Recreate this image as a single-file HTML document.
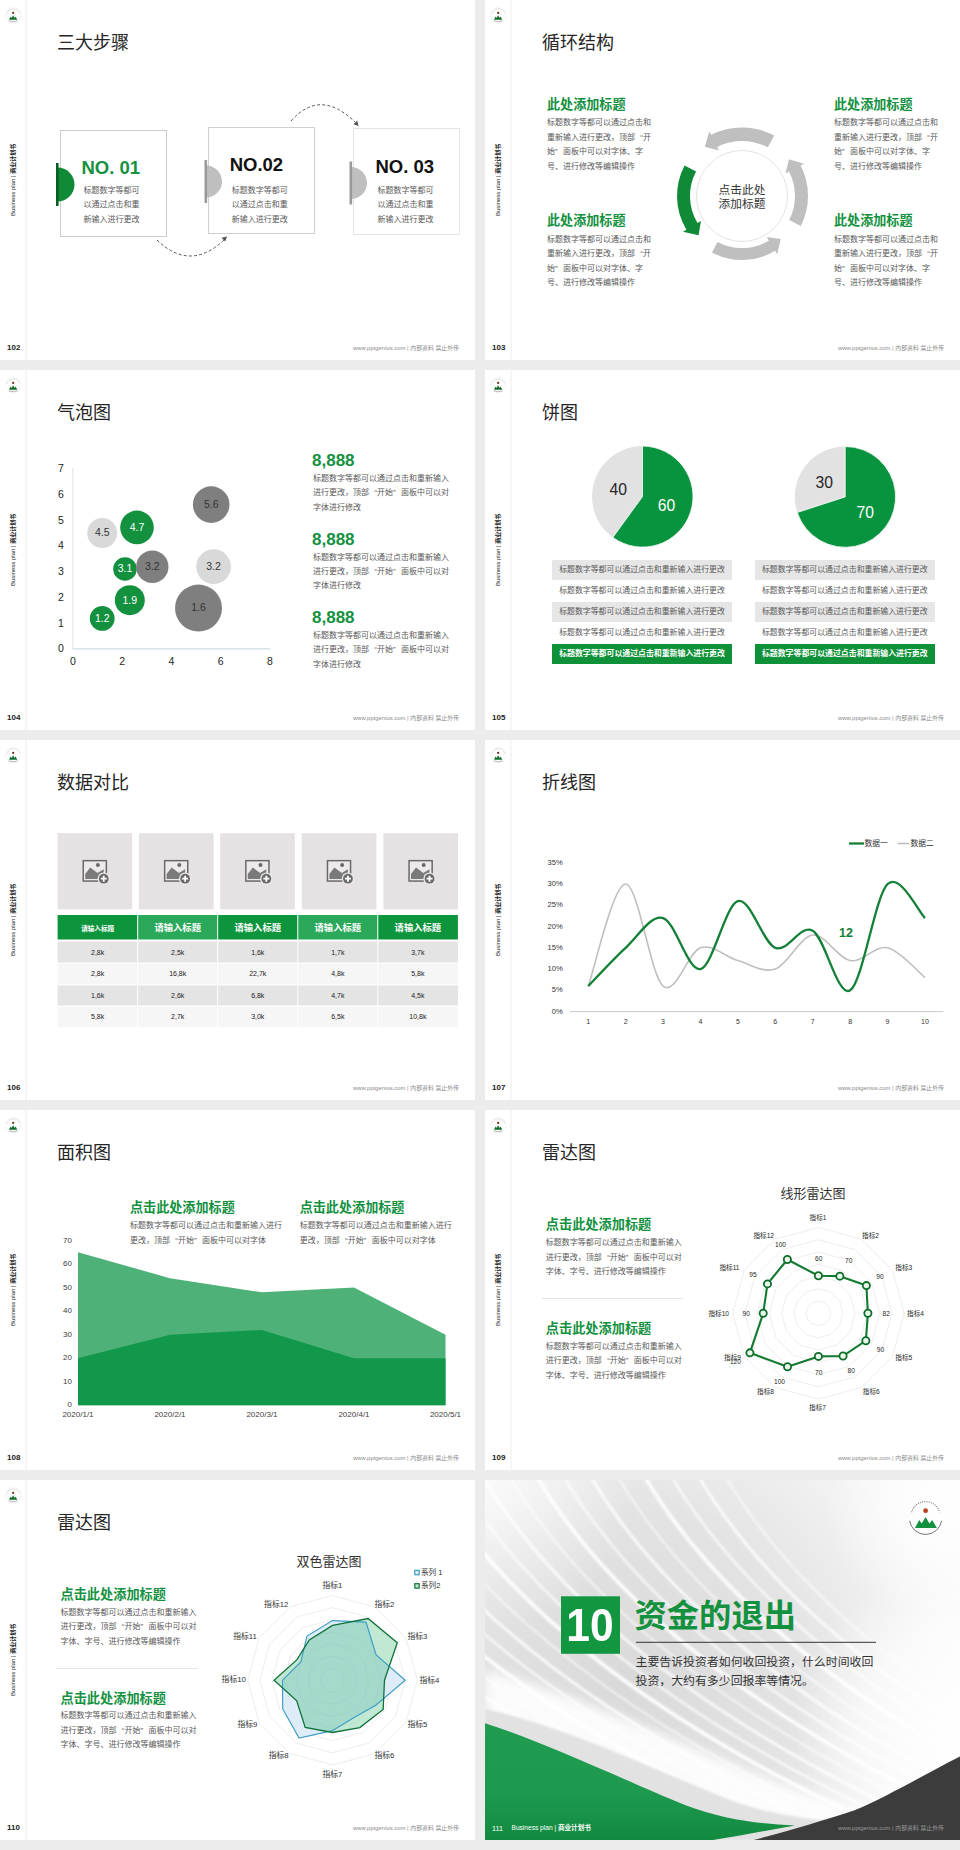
<!DOCTYPE html><html><head><meta charset="utf-8"><title>Business plan</title><style>
*{margin:0;padding:0;box-sizing:content-box}
html,body{width:960px;height:1850px;background:#ececec;overflow:hidden}
body{position:relative;font-family:"Liberation Sans", "Noto Sans CJK SC", sans-serif}
.s{position:absolute;width:475px;height:360px;background:#fff;overflow:hidden}
.a{position:absolute}
.t{position:absolute;white-space:nowrap;line-height:1}
.vt{transform:rotate(-90deg);text-align:center}
.ql{display:inline-block;width:1em;text-align:right}
.qr{display:inline-block;width:1em;text-align:left}
svg text{font-family:"Liberation Sans", "Noto Sans CJK SC", sans-serif}
</style></head><body>
<div class="s" style="left:0px;top:0px"><svg class="a" style="left:4px;top:6px" width="19" height="19" viewBox="0 0 19 19">
<circle cx="9.2" cy="9.2" r="7.6" fill="none" stroke="#ececec" stroke-width="0.6"/><path d="M3.2 7.5 A6.6 6.6 0 0 1 15.8 7.5" fill="none" stroke="#bdbdbd" stroke-width="0.8" stroke-dasharray="0.8 0.7"/>
<circle cx="9.2" cy="6.9" r="1.1" fill="#6b2a1a"/>
<path d="M5 13.8 L6.6 10.6 L7.6 12 L9.1 9.2 L10.6 12 L11.6 10.6 L13.3 13.8 Z" fill="#106d2c"/>
<path d="M4.8 14.9 Q9.2 16.6 13.6 14.9" fill="none" stroke="#9a9a9a" stroke-width="0.7"/>
</svg><div class="a" style="left:25px;top:0;width:2px;height:360px;background:#f6f6f6"></div><div class="t vt" style="left:-23px;top:177px;width:72px;font-size:6px;color:#222">Business plan | <b>商业计划书</b></div><div class="t" style="left:7px;top:344px;font-size:8px;color:#222;font-weight:bold;">102</div><div class="t" style="left:159px;width:300px;text-align:right;top:346px;font-size:5.9px;color:#8a8a8a;font-weight:normal;">www.pptgenius.com | 内部资料 禁止外传</div><div class="t" style="left:57px;top:34px;font-size:18px;color:#262626;font-weight:normal;">三大步骤</div><div class="a" style="left:60px;top:130px;width:105px;height:105px;border:1px solid #cccccc;background:#fff"></div><div class="a" style="left:208px;top:127px;width:105px;height:105px;border:1px solid #cfcfcf;background:#fff"></div><div class="a" style="left:353px;top:128px;width:105px;height:105px;border:1px solid #e4e4e4;background:#fff"></div><svg class="a" style="left:0;top:0" width="475" height="360"><path d="M57.5 167.5 A17 17 0 0 1 57.5 201.5 Z" fill="#118a38"/><rect x="56.0" y="163.0" width="2.6" height="43" fill="#0a5e24"/><path d="M206 165.5 A16 16 0 0 1 206 197.5 Z" fill="#bfbfbf"/><rect x="204.5" y="160.0" width="2.6" height="43" fill="#9a9a9a"/><path d="M351 167 A16 16 0 0 1 351 199 Z" fill="#bfbfbf"/><rect x="349.5" y="161.5" width="2.6" height="43" fill="#9a9a9a"/><path d="M157 240 Q190 272 224 240" fill="none" stroke="#555" stroke-width="1" stroke-dasharray="3 2.2"/><path d="M227 236.5 l-5.5 1.2 l3.8 3.8 z" fill="#555"/><path d="M291 121 Q320 88 355 122" fill="none" stroke="#555" stroke-width="1" stroke-dasharray="3 2.2"/><path d="M358.5 126 l-1.2 -5.5 l-3.8 3.8 z" fill="#555"/></svg><div class="t" style="left:81.5px;top:159px;font-size:18.5px;color:#13913f;font-weight:bold;">NO. 01</div><div class="t" style="left:229.7px;top:155.8px;font-size:18.5px;color:#111;font-weight:bold;">NO.02</div><div class="t" style="left:375.5px;top:157.5px;font-size:18.5px;color:#111;font-weight:bold;">NO. 03</div><div class="t" style="left:83.5px;top:186.5px;font-size:8.0px;color:#595959;font-weight:normal;">标题数字等都可</div><div class="t" style="left:83.5px;top:201.0px;font-size:8.0px;color:#595959;font-weight:normal;">以通过点击和重</div><div class="t" style="left:83.5px;top:215.5px;font-size:8.0px;color:#595959;font-weight:normal;">新输入进行更改</div><div class="t" style="left:231.7px;top:186.5px;font-size:8.0px;color:#595959;font-weight:normal;">标题数字等都可</div><div class="t" style="left:231.7px;top:201.0px;font-size:8.0px;color:#595959;font-weight:normal;">以通过点击和重</div><div class="t" style="left:231.7px;top:215.5px;font-size:8.0px;color:#595959;font-weight:normal;">新输入进行更改</div><div class="t" style="left:377.5px;top:186.5px;font-size:8.0px;color:#595959;font-weight:normal;">标题数字等都可</div><div class="t" style="left:377.5px;top:201.0px;font-size:8.0px;color:#595959;font-weight:normal;">以通过点击和重</div><div class="t" style="left:377.5px;top:215.5px;font-size:8.0px;color:#595959;font-weight:normal;">新输入进行更改</div></div>
<div class="s" style="left:485px;top:0px"><svg class="a" style="left:4px;top:6px" width="19" height="19" viewBox="0 0 19 19">
<circle cx="9.2" cy="9.2" r="7.6" fill="none" stroke="#ececec" stroke-width="0.6"/><path d="M3.2 7.5 A6.6 6.6 0 0 1 15.8 7.5" fill="none" stroke="#bdbdbd" stroke-width="0.8" stroke-dasharray="0.8 0.7"/>
<circle cx="9.2" cy="6.9" r="1.1" fill="#6b2a1a"/>
<path d="M5 13.8 L6.6 10.6 L7.6 12 L9.1 9.2 L10.6 12 L11.6 10.6 L13.3 13.8 Z" fill="#106d2c"/>
<path d="M4.8 14.9 Q9.2 16.6 13.6 14.9" fill="none" stroke="#9a9a9a" stroke-width="0.7"/>
</svg><div class="a" style="left:25px;top:0;width:2px;height:360px;background:#f6f6f6"></div><div class="t vt" style="left:-23px;top:177px;width:72px;font-size:6px;color:#222">Business plan | <b>商业计划书</b></div><div class="t" style="left:7px;top:344px;font-size:8px;color:#222;font-weight:bold;">103</div><div class="t" style="left:159px;width:300px;text-align:right;top:346px;font-size:5.9px;color:#8a8a8a;font-weight:normal;">www.pptgenius.com | 内部资料 禁止外传</div><div class="t" style="left:57px;top:34px;font-size:18px;color:#262626;font-weight:normal;">循环结构</div><svg class="a" style="left:0;top:0" width="475" height="360"><circle cx="257" cy="196" r="45.5" fill="#fff" stroke="#e3e3e3" stroke-width="1"/><path d="M289.16 135.52 A68.5 68.5 0 0 0 226.12 134.85 L224.32 131.28 L219.84 146.68 L234.01 150.48 L232.21 146.90 A55 55 0 0 1 282.82 147.44 Z" fill="#bfbfbf"/><path d="M315.81 225.96 A66 66 0 0 0 315.59 165.62 L319.14 163.78 L303.89 159.37 L300.50 173.44 L304.05 171.60 A53 53 0 0 1 304.22 220.06 Z" fill="#bfbfbf"/><path d="M226.95 252.51 A64 64 0 0 0 290.09 250.78 L292.16 254.21 L295.81 239.10 L281.82 237.09 L283.89 240.51 A52 52 0 0 1 232.59 241.91 Z" fill="#bfbfbf"/><path d="M199.61 165.48 A65 65 0 0 0 201.42 229.70 L198.00 231.77 L213.53 235.14 L215.95 220.88 L212.53 222.96 A52 52 0 0 1 211.09 171.59 Z" fill="#118a38"/></svg><div class="t" style="left:57px;width:400px;text-align:center;top:183.5px;font-size:11.7px;color:#333;font-weight:normal;">点击此处</div><div class="t" style="left:57px;width:400px;text-align:center;top:197.5px;font-size:11.7px;color:#333;font-weight:normal;">添加标题</div><div class="t" style="left:62px;top:97.7px;font-size:13.1px;color:#13913f;font-weight:bold;">此处添加标题</div><div class="t" style="left:62px;top:119.0px;font-size:8.0px;color:#595959;font-weight:normal;">标题数字等都可以通过点击和</div><div class="t" style="left:62px;top:133.5px;font-size:8.0px;color:#595959;font-weight:normal;">重新输入进行更改，顶部<span class="ql">“</span>开</div><div class="t" style="left:62px;top:148.0px;font-size:8.0px;color:#595959;font-weight:normal;">始<span class="qr">”</span>面板中可以对字体、字</div><div class="t" style="left:62px;top:162.5px;font-size:8.0px;color:#595959;font-weight:normal;">号、进行修改等编辑操作</div><div class="t" style="left:62px;top:214.2px;font-size:13.1px;color:#13913f;font-weight:bold;">此处添加标题</div><div class="t" style="left:62px;top:235.5px;font-size:8.0px;color:#595959;font-weight:normal;">标题数字等都可以通过点击和</div><div class="t" style="left:62px;top:250.0px;font-size:8.0px;color:#595959;font-weight:normal;">重新输入进行更改，顶部<span class="ql">“</span>开</div><div class="t" style="left:62px;top:264.5px;font-size:8.0px;color:#595959;font-weight:normal;">始<span class="qr">”</span>面板中可以对字体、字</div><div class="t" style="left:62px;top:279.0px;font-size:8.0px;color:#595959;font-weight:normal;">号、进行修改等编辑操作</div><div class="t" style="left:349px;top:97.7px;font-size:13.1px;color:#13913f;font-weight:bold;">此处添加标题</div><div class="t" style="left:349px;top:119.0px;font-size:8.0px;color:#595959;font-weight:normal;">标题数字等都可以通过点击和</div><div class="t" style="left:349px;top:133.5px;font-size:8.0px;color:#595959;font-weight:normal;">重新输入进行更改，顶部<span class="ql">“</span>开</div><div class="t" style="left:349px;top:148.0px;font-size:8.0px;color:#595959;font-weight:normal;">始<span class="qr">”</span>面板中可以对字体、字</div><div class="t" style="left:349px;top:162.5px;font-size:8.0px;color:#595959;font-weight:normal;">号、进行修改等编辑操作</div><div class="t" style="left:349px;top:214.2px;font-size:13.1px;color:#13913f;font-weight:bold;">此处添加标题</div><div class="t" style="left:349px;top:235.5px;font-size:8.0px;color:#595959;font-weight:normal;">标题数字等都可以通过点击和</div><div class="t" style="left:349px;top:250.0px;font-size:8.0px;color:#595959;font-weight:normal;">重新输入进行更改，顶部<span class="ql">“</span>开</div><div class="t" style="left:349px;top:264.5px;font-size:8.0px;color:#595959;font-weight:normal;">始<span class="qr">”</span>面板中可以对字体、字</div><div class="t" style="left:349px;top:279.0px;font-size:8.0px;color:#595959;font-weight:normal;">号、进行修改等编辑操作</div></div>
<div class="s" style="left:0px;top:370px"><svg class="a" style="left:4px;top:6px" width="19" height="19" viewBox="0 0 19 19">
<circle cx="9.2" cy="9.2" r="7.6" fill="none" stroke="#ececec" stroke-width="0.6"/><path d="M3.2 7.5 A6.6 6.6 0 0 1 15.8 7.5" fill="none" stroke="#bdbdbd" stroke-width="0.8" stroke-dasharray="0.8 0.7"/>
<circle cx="9.2" cy="6.9" r="1.1" fill="#6b2a1a"/>
<path d="M5 13.8 L6.6 10.6 L7.6 12 L9.1 9.2 L10.6 12 L11.6 10.6 L13.3 13.8 Z" fill="#106d2c"/>
<path d="M4.8 14.9 Q9.2 16.6 13.6 14.9" fill="none" stroke="#9a9a9a" stroke-width="0.7"/>
</svg><div class="a" style="left:25px;top:0;width:2px;height:360px;background:#f6f6f6"></div><div class="t vt" style="left:-23px;top:177px;width:72px;font-size:6px;color:#222">Business plan | <b>商业计划书</b></div><div class="t" style="left:7px;top:344px;font-size:8px;color:#222;font-weight:bold;">104</div><div class="t" style="left:159px;width:300px;text-align:right;top:346px;font-size:5.9px;color:#8a8a8a;font-weight:normal;">www.pptgenius.com | 内部资料 禁止外传</div><div class="t" style="left:57px;top:34px;font-size:18px;color:#262626;font-weight:normal;">气泡图</div><svg class="a" style="left:0;top:0" width="475" height="360"><line x1="72.8" y1="98" x2="72.8" y2="278.9" stroke="#e3e3e3" stroke-width="1"/><line x1="72.8" y1="278.9" x2="270.4" y2="278.9" stroke="#c5d5dc" stroke-width="1"/><circle cx="102.2" cy="248.39999999999998" r="12.4" fill="#13913f"/><circle cx="129.8" cy="230.20000000000005" r="15" fill="#13913f"/><circle cx="125" cy="199" r="11.8" fill="#13913f"/><circle cx="137" cy="157.39999999999998" r="16.8" fill="#13913f"/><circle cx="102.2" cy="163.10000000000002" r="15" fill="#d9d9d9"/><circle cx="152.3" cy="196.70000000000005" r="16.2" fill="#7f7f7f"/><circle cx="211.2" cy="134.60000000000002" r="18.3" fill="#7f7f7f"/><circle cx="213.6" cy="196.70000000000005" r="17.4" fill="#d9d9d9"/><circle cx="198.5" cy="238.10000000000002" r="23.5" fill="#7f7f7f"/></svg><div class="t" style="left:-97.8px;width:400px;text-align:center;top:242.7px;font-size:10.5px;color:#fff;font-weight:normal;">1.2</div><div class="t" style="left:-70.19999999999999px;width:400px;text-align:center;top:224.50000000000006px;font-size:10.5px;color:#fff;font-weight:normal;">1.9</div><div class="t" style="left:-75px;width:400px;text-align:center;top:193.3px;font-size:10.5px;color:#fff;font-weight:normal;">3.1</div><div class="t" style="left:-63px;width:400px;text-align:center;top:151.7px;font-size:10.5px;color:#fff;font-weight:normal;">4.7</div><div class="t" style="left:-97.8px;width:400px;text-align:center;top:157.40000000000003px;font-size:10.5px;color:#333;font-weight:normal;">4.5</div><div class="t" style="left:-47.69999999999999px;width:400px;text-align:center;top:191.00000000000006px;font-size:10.5px;color:#333;font-weight:normal;">3.2</div><div class="t" style="left:11.199999999999989px;width:400px;text-align:center;top:128.90000000000003px;font-size:10.5px;color:#333;font-weight:normal;">5.6</div><div class="t" style="left:13.599999999999994px;width:400px;text-align:center;top:191.00000000000006px;font-size:10.5px;color:#333;font-weight:normal;">3.2</div><div class="t" style="left:-1.5px;width:400px;text-align:center;top:232.40000000000003px;font-size:10.5px;color:#333;font-weight:normal;">1.6</div><div class="t" style="left:-139.1px;width:400px;text-align:center;top:273.29999999999995px;font-size:10.5px;color:#262626;font-weight:normal;">0</div><div class="t" style="left:-139.1px;width:400px;text-align:center;top:247.55999999999997px;font-size:10.5px;color:#262626;font-weight:normal;">1</div><div class="t" style="left:-139.1px;width:400px;text-align:center;top:221.81999999999996px;font-size:10.5px;color:#262626;font-weight:normal;">2</div><div class="t" style="left:-139.1px;width:400px;text-align:center;top:196.07999999999996px;font-size:10.5px;color:#262626;font-weight:normal;">3</div><div class="t" style="left:-139.1px;width:400px;text-align:center;top:170.33999999999995px;font-size:10.5px;color:#262626;font-weight:normal;">4</div><div class="t" style="left:-139.1px;width:400px;text-align:center;top:144.60000000000005px;font-size:10.5px;color:#262626;font-weight:normal;">5</div><div class="t" style="left:-139.1px;width:400px;text-align:center;top:118.85999999999999px;font-size:10.5px;color:#262626;font-weight:normal;">6</div><div class="t" style="left:-139.1px;width:400px;text-align:center;top:93.12000000000003px;font-size:10.5px;color:#262626;font-weight:normal;">7</div><div class="t" style="left:-127.2px;width:400px;text-align:center;top:286.4px;font-size:10.5px;color:#262626;font-weight:normal;">0</div><div class="t" style="left:-77.9px;width:400px;text-align:center;top:286.4px;font-size:10.5px;color:#262626;font-weight:normal;">2</div><div class="t" style="left:-28.600000000000023px;width:400px;text-align:center;top:286.4px;font-size:10.5px;color:#262626;font-weight:normal;">4</div><div class="t" style="left:20.69999999999999px;width:400px;text-align:center;top:286.4px;font-size:10.5px;color:#262626;font-weight:normal;">6</div><div class="t" style="left:70.0px;width:400px;text-align:center;top:286.4px;font-size:10.5px;color:#262626;font-weight:normal;">8</div><div class="t" style="left:312px;top:82.10000000000002px;font-size:17px;color:#13913f;font-weight:bold;">8,888</div><div class="t" style="left:313px;top:105.10000000000002px;font-size:8.0px;color:#595959;font-weight:normal;">标题数字等都可以通过点击和重新输入</div><div class="t" style="left:313px;top:119.40000000000002px;font-size:8.0px;color:#595959;font-weight:normal;">进行更改，顶部<span class="ql">“</span>开始<span class="qr">”</span>面板中可以对</div><div class="t" style="left:313px;top:133.70000000000002px;font-size:8.0px;color:#595959;font-weight:normal;">字体进行修改</div><div class="t" style="left:312px;top:160.60000000000002px;font-size:17px;color:#13913f;font-weight:bold;">8,888</div><div class="t" style="left:313px;top:183.60000000000002px;font-size:8.0px;color:#595959;font-weight:normal;">标题数字等都可以通过点击和重新输入</div><div class="t" style="left:313px;top:197.90000000000003px;font-size:8.0px;color:#595959;font-weight:normal;">进行更改，顶部<span class="ql">“</span>开始<span class="qr">”</span>面板中可以对</div><div class="t" style="left:313px;top:212.20000000000002px;font-size:8.0px;color:#595959;font-weight:normal;">字体进行修改</div><div class="t" style="left:312px;top:239.10000000000002px;font-size:17px;color:#13913f;font-weight:bold;">8,888</div><div class="t" style="left:313px;top:262.1px;font-size:8.0px;color:#595959;font-weight:normal;">标题数字等都可以通过点击和重新输入</div><div class="t" style="left:313px;top:276.40000000000003px;font-size:8.0px;color:#595959;font-weight:normal;">进行更改，顶部<span class="ql">“</span>开始<span class="qr">”</span>面板中可以对</div><div class="t" style="left:313px;top:290.70000000000005px;font-size:8.0px;color:#595959;font-weight:normal;">字体进行修改</div></div>
<div class="s" style="left:485px;top:370px"><svg class="a" style="left:4px;top:6px" width="19" height="19" viewBox="0 0 19 19">
<circle cx="9.2" cy="9.2" r="7.6" fill="none" stroke="#ececec" stroke-width="0.6"/><path d="M3.2 7.5 A6.6 6.6 0 0 1 15.8 7.5" fill="none" stroke="#bdbdbd" stroke-width="0.8" stroke-dasharray="0.8 0.7"/>
<circle cx="9.2" cy="6.9" r="1.1" fill="#6b2a1a"/>
<path d="M5 13.8 L6.6 10.6 L7.6 12 L9.1 9.2 L10.6 12 L11.6 10.6 L13.3 13.8 Z" fill="#106d2c"/>
<path d="M4.8 14.9 Q9.2 16.6 13.6 14.9" fill="none" stroke="#9a9a9a" stroke-width="0.7"/>
</svg><div class="a" style="left:25px;top:0;width:2px;height:360px;background:#f6f6f6"></div><div class="t vt" style="left:-23px;top:177px;width:72px;font-size:6px;color:#222">Business plan | <b>商业计划书</b></div><div class="t" style="left:7px;top:344px;font-size:8px;color:#222;font-weight:bold;">105</div><div class="t" style="left:159px;width:300px;text-align:right;top:346px;font-size:5.9px;color:#8a8a8a;font-weight:normal;">www.pptgenius.com | 内部资料 禁止外传</div><div class="t" style="left:57px;top:34px;font-size:18px;color:#262626;font-weight:normal;">饼图</div><svg class="a" style="left:0;top:0" width="475" height="360"><circle cx="157.5" cy="126.6" r="50.5" fill="#e2e2e2"/><path d="M157.5 126.6 L157.5 76.1 A50.5 50.5 0 1 1 127.82 167.46 Z" fill="#08933e" stroke="#fff" stroke-width="0.8" stroke-linejoin="round"/><circle cx="360.2" cy="126.9" r="50.4" fill="#e2e2e2"/><path d="M360.2 126.9 L360.2 76.5 A50.4 50.4 0 1 1 312.27 142.47 Z" fill="#08933e" stroke="#fff" stroke-width="0.8" stroke-linejoin="round"/></svg><div class="t" style="left:-66.69999999999999px;width:400px;text-align:center;top:112px;font-size:15.7px;color:#262626;font-weight:normal;">40</div><div class="t" style="left:-18.599999999999994px;width:400px;text-align:center;top:128px;font-size:15.7px;color:#fff;font-weight:normal;">60</div><div class="t" style="left:139.2px;width:400px;text-align:center;top:105px;font-size:15.7px;color:#262626;font-weight:normal;">30</div><div class="t" style="left:180.3px;width:400px;text-align:center;top:135px;font-size:15.7px;color:#fff;font-weight:normal;">70</div><div class="a" style="left:67px;top:190.2px;width:180px;height:19.6px;background:#e6e6e6"></div><div class="t" style="left:-43px;width:400px;text-align:center;top:196.0px;font-size:7.9px;color:#595959;font-weight:normal;">标题数字等都可以通过点击和重新输入进行更改</div><div class="a" style="left:67px;top:211.25px;width:180px;height:19.6px;background:#fff"></div><div class="t" style="left:-43px;width:400px;text-align:center;top:217.05px;font-size:7.9px;color:#595959;font-weight:normal;">标题数字等都可以通过点击和重新输入进行更改</div><div class="a" style="left:67px;top:232.29999999999998px;width:180px;height:19.6px;background:#e6e6e6"></div><div class="t" style="left:-43px;width:400px;text-align:center;top:238.1px;font-size:7.9px;color:#595959;font-weight:normal;">标题数字等都可以通过点击和重新输入进行更改</div><div class="a" style="left:67px;top:253.35px;width:180px;height:19.6px;background:#fff"></div><div class="t" style="left:-43px;width:400px;text-align:center;top:259.15px;font-size:7.9px;color:#595959;font-weight:normal;">标题数字等都可以通过点击和重新输入进行更改</div><div class="a" style="left:67px;top:274.4px;width:180px;height:19.6px;background:#0f9139"></div><div class="t" style="left:-43px;width:400px;text-align:center;top:280.2px;font-size:7.9px;color:#fff;font-weight:bold;">标题数字等都可以通过点击和重新输入进行更改</div><div class="a" style="left:269.8px;top:190.2px;width:180px;height:19.6px;background:#e6e6e6"></div><div class="t" style="left:159.8px;width:400px;text-align:center;top:196.0px;font-size:7.9px;color:#595959;font-weight:normal;">标题数字等都可以通过点击和重新输入进行更改</div><div class="a" style="left:269.8px;top:211.25px;width:180px;height:19.6px;background:#fff"></div><div class="t" style="left:159.8px;width:400px;text-align:center;top:217.05px;font-size:7.9px;color:#595959;font-weight:normal;">标题数字等都可以通过点击和重新输入进行更改</div><div class="a" style="left:269.8px;top:232.29999999999998px;width:180px;height:19.6px;background:#e6e6e6"></div><div class="t" style="left:159.8px;width:400px;text-align:center;top:238.1px;font-size:7.9px;color:#595959;font-weight:normal;">标题数字等都可以通过点击和重新输入进行更改</div><div class="a" style="left:269.8px;top:253.35px;width:180px;height:19.6px;background:#fff"></div><div class="t" style="left:159.8px;width:400px;text-align:center;top:259.15px;font-size:7.9px;color:#595959;font-weight:normal;">标题数字等都可以通过点击和重新输入进行更改</div><div class="a" style="left:269.8px;top:274.4px;width:180px;height:19.6px;background:#0f9139"></div><div class="t" style="left:159.8px;width:400px;text-align:center;top:280.2px;font-size:7.9px;color:#fff;font-weight:bold;">标题数字等都可以通过点击和重新输入进行更改</div></div>
<div class="s" style="left:0px;top:740px"><svg class="a" style="left:4px;top:6px" width="19" height="19" viewBox="0 0 19 19">
<circle cx="9.2" cy="9.2" r="7.6" fill="none" stroke="#ececec" stroke-width="0.6"/><path d="M3.2 7.5 A6.6 6.6 0 0 1 15.8 7.5" fill="none" stroke="#bdbdbd" stroke-width="0.8" stroke-dasharray="0.8 0.7"/>
<circle cx="9.2" cy="6.9" r="1.1" fill="#6b2a1a"/>
<path d="M5 13.8 L6.6 10.6 L7.6 12 L9.1 9.2 L10.6 12 L11.6 10.6 L13.3 13.8 Z" fill="#106d2c"/>
<path d="M4.8 14.9 Q9.2 16.6 13.6 14.9" fill="none" stroke="#9a9a9a" stroke-width="0.7"/>
</svg><div class="a" style="left:25px;top:0;width:2px;height:360px;background:#f6f6f6"></div><div class="t vt" style="left:-23px;top:177px;width:72px;font-size:6px;color:#222">Business plan | <b>商业计划书</b></div><div class="t" style="left:7px;top:344px;font-size:8px;color:#222;font-weight:bold;">106</div><div class="t" style="left:159px;width:300px;text-align:right;top:346px;font-size:5.9px;color:#8a8a8a;font-weight:normal;">www.pptgenius.com | 内部资料 禁止外传</div><div class="t" style="left:57px;top:34px;font-size:18px;color:#262626;font-weight:normal;">数据对比</div><svg class="a" style="left:0;top:0" width="475" height="360"><rect x="57.6" y="93.2" width="74.6" height="76.2" fill="#e6e2e3"/><g transform="translate(82.5,119.9)">
<rect x="0.75" y="0.75" width="23.1" height="20.4" fill="#eeeaeb" stroke="#6a6a6a" stroke-width="1.5"/>
<circle cx="15.4" cy="5.2" r="2" fill="#6a6a6a"/>
<path d="M2.7 19 L2.7 14 L7.7 7.7 L15 13.1 L21.2 9.4 L21.2 19 Z" fill="#7a7a7a"/>
<circle cx="21.25" cy="18.8" r="6.2" fill="#eeeaeb"/>
<circle cx="21.25" cy="18.8" r="4.9" fill="#6a6a6a"/>
<path d="M21.25 15.8 v6 M18.25 18.8 h6" stroke="#fff" stroke-width="1.8"/>
</g><rect x="139" y="93.2" width="74.6" height="76.2" fill="#e6e2e3"/><g transform="translate(163.9,119.9)">
<rect x="0.75" y="0.75" width="23.1" height="20.4" fill="#eeeaeb" stroke="#6a6a6a" stroke-width="1.5"/>
<circle cx="15.4" cy="5.2" r="2" fill="#6a6a6a"/>
<path d="M2.7 19 L2.7 14 L7.7 7.7 L15 13.1 L21.2 9.4 L21.2 19 Z" fill="#7a7a7a"/>
<circle cx="21.25" cy="18.8" r="6.2" fill="#eeeaeb"/>
<circle cx="21.25" cy="18.8" r="4.9" fill="#6a6a6a"/>
<path d="M21.25 15.8 v6 M18.25 18.8 h6" stroke="#fff" stroke-width="1.8"/>
</g><rect x="220.2" y="93.2" width="74.6" height="76.2" fill="#e6e2e3"/><g transform="translate(245.1,119.9)">
<rect x="0.75" y="0.75" width="23.1" height="20.4" fill="#eeeaeb" stroke="#6a6a6a" stroke-width="1.5"/>
<circle cx="15.4" cy="5.2" r="2" fill="#6a6a6a"/>
<path d="M2.7 19 L2.7 14 L7.7 7.7 L15 13.1 L21.2 9.4 L21.2 19 Z" fill="#7a7a7a"/>
<circle cx="21.25" cy="18.8" r="6.2" fill="#eeeaeb"/>
<circle cx="21.25" cy="18.8" r="4.9" fill="#6a6a6a"/>
<path d="M21.25 15.8 v6 M18.25 18.8 h6" stroke="#fff" stroke-width="1.8"/>
</g><rect x="301.8" y="93.2" width="74.6" height="76.2" fill="#e6e2e3"/><g transform="translate(326.7,119.9)">
<rect x="0.75" y="0.75" width="23.1" height="20.4" fill="#eeeaeb" stroke="#6a6a6a" stroke-width="1.5"/>
<circle cx="15.4" cy="5.2" r="2" fill="#6a6a6a"/>
<path d="M2.7 19 L2.7 14 L7.7 7.7 L15 13.1 L21.2 9.4 L21.2 19 Z" fill="#7a7a7a"/>
<circle cx="21.25" cy="18.8" r="6.2" fill="#eeeaeb"/>
<circle cx="21.25" cy="18.8" r="4.9" fill="#6a6a6a"/>
<path d="M21.25 15.8 v6 M18.25 18.8 h6" stroke="#fff" stroke-width="1.8"/>
</g><rect x="383.4" y="93.2" width="74.6" height="76.2" fill="#e6e2e3"/><g transform="translate(408.29999999999995,119.9)">
<rect x="0.75" y="0.75" width="23.1" height="20.4" fill="#eeeaeb" stroke="#6a6a6a" stroke-width="1.5"/>
<circle cx="15.4" cy="5.2" r="2" fill="#6a6a6a"/>
<path d="M2.7 19 L2.7 14 L7.7 7.7 L15 13.1 L21.2 9.4 L21.2 19 Z" fill="#7a7a7a"/>
<circle cx="21.25" cy="18.8" r="6.2" fill="#eeeaeb"/>
<circle cx="21.25" cy="18.8" r="4.9" fill="#6a6a6a"/>
<path d="M21.25 15.8 v6 M18.25 18.8 h6" stroke="#fff" stroke-width="1.8"/>
</g><rect x="57.6" y="175" width="80.1" height="24.5" fill="#0c953c"/><rect x="137.7" y="175" width="80.0" height="24.5" fill="#2aa95b"/><rect x="217.7" y="175" width="80.10000000000002" height="24.5" fill="#0c953c"/><rect x="297.8" y="175" width="80.0" height="24.5" fill="#2aa95b"/><rect x="377.8" y="175" width="80.09999999999997" height="24.5" fill="#0c953c"/><rect x="57.6" y="201.4" width="400.3" height="21.599999999999994" fill="#e4e4e4"/><rect x="57.6" y="223" width="400.3" height="22" fill="#f6f6f6"/><rect x="57.6" y="245" width="400.3" height="21.19999999999999" fill="#e4e4e4"/><rect x="57.6" y="266.2" width="400.3" height="21.19999999999999" fill="#f6f6f6"/><line x1="137.7" y1="175" x2="137.7" y2="287.4" stroke="#fff" stroke-width="1"/><line x1="217.7" y1="175" x2="217.7" y2="287.4" stroke="#fff" stroke-width="1"/><line x1="297.8" y1="175" x2="297.8" y2="287.4" stroke="#fff" stroke-width="1"/><line x1="377.8" y1="175" x2="377.8" y2="287.4" stroke="#fff" stroke-width="1"/><line x1="57.6" y1="223" x2="457.9" y2="223" stroke="#fff" stroke-width="1.2"/><line x1="57.6" y1="245" x2="457.9" y2="245" stroke="#fff" stroke-width="1.2"/><line x1="57.6" y1="266.2" x2="457.9" y2="266.2" stroke="#fff" stroke-width="1.2"/></svg><div class="t" style="left:-102.35000000000001px;width:400px;text-align:center;top:185.5px;font-size:6.6px;color:#fff;font-weight:bold;">请输入标题</div><div class="t" style="left:-22.30000000000001px;width:400px;text-align:center;top:183.6px;font-size:9.3px;color:#fff;font-weight:bold;">请输入标题</div><div class="t" style="left:57.75px;width:400px;text-align:center;top:183.6px;font-size:9.3px;color:#fff;font-weight:bold;">请输入标题</div><div class="t" style="left:137.8px;width:400px;text-align:center;top:183.6px;font-size:9.3px;color:#fff;font-weight:bold;">请输入标题</div><div class="t" style="left:217.85000000000002px;width:400px;text-align:center;top:183.6px;font-size:9.3px;color:#fff;font-weight:bold;">请输入标题</div><div class="t" style="left:-102.35000000000001px;width:400px;text-align:center;top:208.6px;font-size:7px;color:#222;font-weight:normal;">2,8k</div><div class="t" style="left:-22.30000000000001px;width:400px;text-align:center;top:208.6px;font-size:7px;color:#222;font-weight:normal;">2,5k</div><div class="t" style="left:57.75px;width:400px;text-align:center;top:208.6px;font-size:7px;color:#222;font-weight:normal;">1,6k</div><div class="t" style="left:137.8px;width:400px;text-align:center;top:208.6px;font-size:7px;color:#222;font-weight:normal;">1,7k</div><div class="t" style="left:217.85000000000002px;width:400px;text-align:center;top:208.6px;font-size:7px;color:#222;font-weight:normal;">3,7k</div><div class="t" style="left:-102.35000000000001px;width:400px;text-align:center;top:230.4px;font-size:7px;color:#222;font-weight:normal;">2,8k</div><div class="t" style="left:-22.30000000000001px;width:400px;text-align:center;top:230.4px;font-size:7px;color:#222;font-weight:normal;">16,8k</div><div class="t" style="left:57.75px;width:400px;text-align:center;top:230.4px;font-size:7px;color:#222;font-weight:normal;">22,7k</div><div class="t" style="left:137.8px;width:400px;text-align:center;top:230.4px;font-size:7px;color:#222;font-weight:normal;">4,8k</div><div class="t" style="left:217.85000000000002px;width:400px;text-align:center;top:230.4px;font-size:7px;color:#222;font-weight:normal;">5,8k</div><div class="t" style="left:-102.35000000000001px;width:400px;text-align:center;top:252.0px;font-size:7px;color:#222;font-weight:normal;">1,6k</div><div class="t" style="left:-22.30000000000001px;width:400px;text-align:center;top:252.0px;font-size:7px;color:#222;font-weight:normal;">2,6k</div><div class="t" style="left:57.75px;width:400px;text-align:center;top:252.0px;font-size:7px;color:#222;font-weight:normal;">6,8k</div><div class="t" style="left:137.8px;width:400px;text-align:center;top:252.0px;font-size:7px;color:#222;font-weight:normal;">4,7k</div><div class="t" style="left:217.85000000000002px;width:400px;text-align:center;top:252.0px;font-size:7px;color:#222;font-weight:normal;">4,5k</div><div class="t" style="left:-102.35000000000001px;width:400px;text-align:center;top:273.19999999999993px;font-size:7px;color:#222;font-weight:normal;">5,8k</div><div class="t" style="left:-22.30000000000001px;width:400px;text-align:center;top:273.19999999999993px;font-size:7px;color:#222;font-weight:normal;">2,7k</div><div class="t" style="left:57.75px;width:400px;text-align:center;top:273.19999999999993px;font-size:7px;color:#222;font-weight:normal;">3,0k</div><div class="t" style="left:137.8px;width:400px;text-align:center;top:273.19999999999993px;font-size:7px;color:#222;font-weight:normal;">6,5k</div><div class="t" style="left:217.85000000000002px;width:400px;text-align:center;top:273.19999999999993px;font-size:7px;color:#222;font-weight:normal;">10,8k</div></div>
<div class="s" style="left:485px;top:740px"><svg class="a" style="left:4px;top:6px" width="19" height="19" viewBox="0 0 19 19">
<circle cx="9.2" cy="9.2" r="7.6" fill="none" stroke="#ececec" stroke-width="0.6"/><path d="M3.2 7.5 A6.6 6.6 0 0 1 15.8 7.5" fill="none" stroke="#bdbdbd" stroke-width="0.8" stroke-dasharray="0.8 0.7"/>
<circle cx="9.2" cy="6.9" r="1.1" fill="#6b2a1a"/>
<path d="M5 13.8 L6.6 10.6 L7.6 12 L9.1 9.2 L10.6 12 L11.6 10.6 L13.3 13.8 Z" fill="#106d2c"/>
<path d="M4.8 14.9 Q9.2 16.6 13.6 14.9" fill="none" stroke="#9a9a9a" stroke-width="0.7"/>
</svg><div class="a" style="left:25px;top:0;width:2px;height:360px;background:#f6f6f6"></div><div class="t vt" style="left:-23px;top:177px;width:72px;font-size:6px;color:#222">Business plan | <b>商业计划书</b></div><div class="t" style="left:7px;top:344px;font-size:8px;color:#222;font-weight:bold;">107</div><div class="t" style="left:159px;width:300px;text-align:right;top:346px;font-size:5.9px;color:#8a8a8a;font-weight:normal;">www.pptgenius.com | 内部资料 禁止外传</div><div class="t" style="left:57px;top:34px;font-size:18px;color:#262626;font-weight:normal;">折线图</div><svg class="a" style="left:0;top:0" width="475" height="360"><line x1="85" y1="271.6" x2="458.4" y2="271.6" stroke="#c8c8c8" stroke-width="1"/><path d="M103.20 246.09 C109.44 229.08 128.15 144.04 140.62 144.04 C153.09 144.04 165.57 235.46 178.04 246.09 C190.51 256.72 202.99 212.07 215.46 207.82 C227.93 203.57 240.41 217.03 252.88 220.58 C265.35 224.12 277.83 233.33 290.30 229.08 C302.77 224.83 315.25 196.48 327.72 195.06 C340.19 193.65 352.67 218.45 365.14 220.58 C377.61 222.70 390.09 204.99 402.56 207.82 C415.03 210.65 433.74 232.62 439.98 237.58" fill="none" stroke="#bfbfbf" stroke-width="1.6"/><path d="M103.20 246.09 C109.44 239.71 128.15 219.16 140.62 207.82 C153.09 196.48 165.57 174.51 178.04 178.06 C190.51 181.60 202.99 231.91 215.46 229.08 C227.93 226.25 240.41 164.59 252.88 161.05 C265.35 157.50 277.83 202.86 290.30 207.82 C302.77 212.78 315.25 183.73 327.72 190.81 C340.19 197.90 352.67 258.14 365.14 250.34 C377.61 242.54 390.09 156.09 402.56 144.04 C415.03 131.99 433.74 172.39 439.98 178.06" fill="none" stroke="#138038" stroke-width="2.3"/><line x1="364" y1="103.5" x2="379" y2="103.5" stroke="#138038" stroke-width="2.3"/><line x1="412.5" y1="103.5" x2="424.4" y2="103.5" stroke="#bfbfbf" stroke-width="1.6"/></svg><div class="t" style="left:-222.2px;width:300px;text-align:right;top:267.70000000000005px;font-size:7.6px;color:#333;font-weight:normal;">0%</div><div class="t" style="left:-222.2px;width:300px;text-align:right;top:246.44000000000003px;font-size:7.6px;color:#333;font-weight:normal;">5%</div><div class="t" style="left:-222.2px;width:300px;text-align:right;top:225.18px;font-size:7.6px;color:#333;font-weight:normal;">10%</div><div class="t" style="left:-222.2px;width:300px;text-align:right;top:203.92000000000002px;font-size:7.6px;color:#333;font-weight:normal;">15%</div><div class="t" style="left:-222.2px;width:300px;text-align:right;top:182.66px;font-size:7.6px;color:#333;font-weight:normal;">20%</div><div class="t" style="left:-222.2px;width:300px;text-align:right;top:161.4px;font-size:7.6px;color:#333;font-weight:normal;">25%</div><div class="t" style="left:-222.2px;width:300px;text-align:right;top:140.14000000000001px;font-size:7.6px;color:#333;font-weight:normal;">30%</div><div class="t" style="left:-222.2px;width:300px;text-align:right;top:118.88px;font-size:7.6px;color:#333;font-weight:normal;">35%</div><div class="t" style="left:-96.8px;width:400px;text-align:center;top:277.59999999999997px;font-size:7px;color:#333;font-weight:normal;">1</div><div class="t" style="left:-59.379999999999995px;width:400px;text-align:center;top:277.59999999999997px;font-size:7px;color:#333;font-weight:normal;">2</div><div class="t" style="left:-21.95999999999998px;width:400px;text-align:center;top:277.59999999999997px;font-size:7px;color:#333;font-weight:normal;">3</div><div class="t" style="left:15.460000000000008px;width:400px;text-align:center;top:277.59999999999997px;font-size:7px;color:#333;font-weight:normal;">4</div><div class="t" style="left:52.879999999999995px;width:400px;text-align:center;top:277.59999999999997px;font-size:7px;color:#333;font-weight:normal;">5</div><div class="t" style="left:90.30000000000001px;width:400px;text-align:center;top:277.59999999999997px;font-size:7px;color:#333;font-weight:normal;">6</div><div class="t" style="left:127.72000000000003px;width:400px;text-align:center;top:277.59999999999997px;font-size:7px;color:#333;font-weight:normal;">7</div><div class="t" style="left:165.14px;width:400px;text-align:center;top:277.59999999999997px;font-size:7px;color:#333;font-weight:normal;">8</div><div class="t" style="left:202.56px;width:400px;text-align:center;top:277.59999999999997px;font-size:7px;color:#333;font-weight:normal;">9</div><div class="t" style="left:239.98000000000002px;width:400px;text-align:center;top:277.59999999999997px;font-size:7px;color:#333;font-weight:normal;">10</div><div class="t" style="left:160.89999999999998px;width:400px;text-align:center;top:187.2px;font-size:12.5px;color:#138038;font-weight:bold;">12</div><div class="t" style="left:379.5px;top:100.3px;font-size:7.8px;color:#333;font-weight:normal;">数据一</div><div class="t" style="left:425.5px;top:100.3px;font-size:7.8px;color:#333;font-weight:normal;">数据二</div></div>
<div class="s" style="left:0px;top:1110px"><svg class="a" style="left:4px;top:6px" width="19" height="19" viewBox="0 0 19 19">
<circle cx="9.2" cy="9.2" r="7.6" fill="none" stroke="#ececec" stroke-width="0.6"/><path d="M3.2 7.5 A6.6 6.6 0 0 1 15.8 7.5" fill="none" stroke="#bdbdbd" stroke-width="0.8" stroke-dasharray="0.8 0.7"/>
<circle cx="9.2" cy="6.9" r="1.1" fill="#6b2a1a"/>
<path d="M5 13.8 L6.6 10.6 L7.6 12 L9.1 9.2 L10.6 12 L11.6 10.6 L13.3 13.8 Z" fill="#106d2c"/>
<path d="M4.8 14.9 Q9.2 16.6 13.6 14.9" fill="none" stroke="#9a9a9a" stroke-width="0.7"/>
</svg><div class="a" style="left:25px;top:0;width:2px;height:360px;background:#f6f6f6"></div><div class="t vt" style="left:-23px;top:177px;width:72px;font-size:6px;color:#222">Business plan | <b>商业计划书</b></div><div class="t" style="left:7px;top:344px;font-size:8px;color:#222;font-weight:bold;">108</div><div class="t" style="left:159px;width:300px;text-align:right;top:346px;font-size:5.9px;color:#8a8a8a;font-weight:normal;">www.pptgenius.com | 内部资料 禁止外传</div><div class="t" style="left:57px;top:34px;font-size:18px;color:#262626;font-weight:normal;">面积图</div><svg class="a" style="left:0;top:0" width="475" height="360"><polygon points="78,295.3 78,142.29 170,168.18 262,182.31 354,177.60 445.5,224.68 445.5,295.3" fill="#4eb278"/><polygon points="78,295.3 78,248.22 170,224.68 262,219.97 354,248.22 445.5,248.22 445.5,295.3" fill="#11984b"/></svg><div class="t" style="left:-228px;width:300px;text-align:right;top:291.3px;font-size:8px;color:#404040;font-weight:normal;">0</div><div class="t" style="left:-228px;width:300px;text-align:right;top:267.76px;font-size:8px;color:#404040;font-weight:normal;">10</div><div class="t" style="left:-228px;width:300px;text-align:right;top:244.22000000000003px;font-size:8px;color:#404040;font-weight:normal;">20</div><div class="t" style="left:-228px;width:300px;text-align:right;top:220.68px;font-size:8px;color:#404040;font-weight:normal;">30</div><div class="t" style="left:-228px;width:300px;text-align:right;top:197.14000000000001px;font-size:8px;color:#404040;font-weight:normal;">40</div><div class="t" style="left:-228px;width:300px;text-align:right;top:173.60000000000002px;font-size:8px;color:#404040;font-weight:normal;">50</div><div class="t" style="left:-228px;width:300px;text-align:right;top:150.06px;font-size:8px;color:#404040;font-weight:normal;">60</div><div class="t" style="left:-228px;width:300px;text-align:right;top:126.52000000000001px;font-size:8px;color:#404040;font-weight:normal;">70</div><div class="t" style="left:-122px;width:400px;text-align:center;top:300.5px;font-size:8px;color:#404040;font-weight:normal;">2020/1/1</div><div class="t" style="left:-30px;width:400px;text-align:center;top:300.5px;font-size:8px;color:#404040;font-weight:normal;">2020/2/1</div><div class="t" style="left:62px;width:400px;text-align:center;top:300.5px;font-size:8px;color:#404040;font-weight:normal;">2020/3/1</div><div class="t" style="left:154px;width:400px;text-align:center;top:300.5px;font-size:8px;color:#404040;font-weight:normal;">2020/4/1</div><div class="t" style="left:245.5px;width:400px;text-align:center;top:300.5px;font-size:8px;color:#404040;font-weight:normal;">2020/5/1</div><div class="t" style="left:130px;top:91px;font-size:13.1px;color:#13913f;font-weight:bold;">点击此处添加标题</div><div class="t" style="left:130px;top:112.2px;font-size:8.0px;color:#595959;font-weight:normal;">标题数字等都可以通过点击和重新输入进行</div><div class="t" style="left:130px;top:127.4px;font-size:8.0px;color:#595959;font-weight:normal;">更改，顶部<span class="ql">“</span>开始<span class="qr">”</span>面板中可以对字体</div><div class="t" style="left:299.7px;top:91px;font-size:13.1px;color:#13913f;font-weight:bold;">点击此处添加标题</div><div class="t" style="left:299.7px;top:112.2px;font-size:8.0px;color:#595959;font-weight:normal;">标题数字等都可以通过点击和重新输入进行</div><div class="t" style="left:299.7px;top:127.4px;font-size:8.0px;color:#595959;font-weight:normal;">更改，顶部<span class="ql">“</span>开始<span class="qr">”</span>面板中可以对字体</div></div>
<div class="s" style="left:485px;top:1110px"><svg class="a" style="left:4px;top:6px" width="19" height="19" viewBox="0 0 19 19">
<circle cx="9.2" cy="9.2" r="7.6" fill="none" stroke="#ececec" stroke-width="0.6"/><path d="M3.2 7.5 A6.6 6.6 0 0 1 15.8 7.5" fill="none" stroke="#bdbdbd" stroke-width="0.8" stroke-dasharray="0.8 0.7"/>
<circle cx="9.2" cy="6.9" r="1.1" fill="#6b2a1a"/>
<path d="M5 13.8 L6.6 10.6 L7.6 12 L9.1 9.2 L10.6 12 L11.6 10.6 L13.3 13.8 Z" fill="#106d2c"/>
<path d="M4.8 14.9 Q9.2 16.6 13.6 14.9" fill="none" stroke="#9a9a9a" stroke-width="0.7"/>
</svg><div class="a" style="left:25px;top:0;width:2px;height:360px;background:#f6f6f6"></div><div class="t vt" style="left:-23px;top:177px;width:72px;font-size:6px;color:#222">Business plan | <b>商业计划书</b></div><div class="t" style="left:7px;top:344px;font-size:8px;color:#222;font-weight:bold;">109</div><div class="t" style="left:159px;width:300px;text-align:right;top:346px;font-size:5.9px;color:#8a8a8a;font-weight:normal;">www.pptgenius.com | 内部资料 禁止外传</div><div class="t" style="left:57px;top:34px;font-size:18px;color:#262626;font-weight:normal;">雷达图</div><svg class="a" style="left:0;top:0" width="475" height="360"><polygon points="333.40,191.05 339.52,192.69 344.01,197.18 345.65,203.30 344.01,209.43 339.52,213.91 333.40,215.55 327.27,213.91 322.79,209.43 321.15,203.30 322.79,197.18 327.27,192.69" fill="none" stroke="#ebebeb" stroke-width="0.9"/><polygon points="333.40,178.80 345.65,182.08 354.62,191.05 357.90,203.30 354.62,215.55 345.65,224.52 333.40,227.80 321.15,224.52 312.18,215.55 308.90,203.30 312.18,191.05 321.15,182.08" fill="none" stroke="#ebebeb" stroke-width="0.9"/><polygon points="333.40,166.55 351.77,171.47 365.23,184.93 370.15,203.30 365.23,221.68 351.77,235.13 333.40,240.05 315.02,235.13 301.57,221.68 296.65,203.30 301.57,184.93 315.02,171.47" fill="none" stroke="#ebebeb" stroke-width="0.9"/><polygon points="333.40,154.30 357.90,160.86 375.84,178.80 382.40,203.30 375.84,227.80 357.90,245.74 333.40,252.30 308.90,245.74 290.96,227.80 284.40,203.30 290.96,178.80 308.90,160.86" fill="none" stroke="#ebebeb" stroke-width="0.9"/><polygon points="333.40,142.05 364.02,150.26 386.44,172.68 394.65,203.30 386.44,233.93 364.02,256.34 333.40,264.55 302.77,256.34 280.36,233.93 272.15,203.30 280.36,172.68 302.77,150.26" fill="none" stroke="#ebebeb" stroke-width="0.9"/><polygon points="333.40,129.80 370.15,139.65 397.05,166.55 406.90,203.30 397.05,240.05 370.15,266.95 333.40,276.80 296.65,266.95 269.75,240.05 259.90,203.30 269.75,166.55 296.65,139.65" fill="none" stroke="#ebebeb" stroke-width="0.9"/><polygon points="333.40,117.55 376.27,129.04 407.66,160.43 419.15,203.30 407.66,246.18 376.27,277.56 333.40,289.05 290.52,277.56 259.14,246.18 247.65,203.30 259.14,160.43 290.52,129.04" fill="none" stroke="#ebebeb" stroke-width="0.9"/><polygon points="333.40,165.80 354.85,166.15 381.38,175.60 382.90,203.30 380.86,230.70 358.05,246.00 333.40,246.40 302.55,256.73 264.90,242.85 278.20,203.30 282.48,173.90 302.35,149.52" fill="none" stroke="#127a31" stroke-width="2.1" stroke-linejoin="round"/><circle cx="333.40" cy="165.80" r="3.6" fill="#e9f6ea" stroke="#0d6e2b" stroke-width="1.8"/><circle cx="354.85" cy="166.15" r="3.6" fill="#e9f6ea" stroke="#0d6e2b" stroke-width="1.8"/><circle cx="381.38" cy="175.60" r="3.6" fill="#e9f6ea" stroke="#0d6e2b" stroke-width="1.8"/><circle cx="382.90" cy="203.30" r="3.6" fill="#e9f6ea" stroke="#0d6e2b" stroke-width="1.8"/><circle cx="380.86" cy="230.70" r="3.6" fill="#e9f6ea" stroke="#0d6e2b" stroke-width="1.8"/><circle cx="358.05" cy="246.00" r="3.6" fill="#e9f6ea" stroke="#0d6e2b" stroke-width="1.8"/><circle cx="333.40" cy="246.40" r="3.6" fill="#e9f6ea" stroke="#0d6e2b" stroke-width="1.8"/><circle cx="302.55" cy="256.73" r="3.6" fill="#e9f6ea" stroke="#0d6e2b" stroke-width="1.8"/><circle cx="264.90" cy="242.85" r="3.6" fill="#e9f6ea" stroke="#0d6e2b" stroke-width="1.8"/><circle cx="278.20" cy="203.30" r="3.6" fill="#e9f6ea" stroke="#0d6e2b" stroke-width="1.8"/><circle cx="282.48" cy="173.90" r="3.6" fill="#e9f6ea" stroke="#0d6e2b" stroke-width="1.8"/><circle cx="302.35" cy="149.52" r="3.6" fill="#e9f6ea" stroke="#0d6e2b" stroke-width="1.8"/></svg><div class="t" style="left:133px;width:400px;text-align:center;top:104.5px;font-size:6.6px;color:#262626;font-weight:normal;">指标1</div><div class="t" style="left:185.5px;width:400px;text-align:center;top:122.75px;font-size:6.6px;color:#262626;font-weight:normal;">指标2</div><div class="t" style="left:218.75px;width:400px;text-align:center;top:155.25px;font-size:6.6px;color:#262626;font-weight:normal;">指标3</div><div class="t" style="left:230.5px;width:400px;text-align:center;top:200.75px;font-size:6.6px;color:#262626;font-weight:normal;">指标4</div><div class="t" style="left:218.75px;width:400px;text-align:center;top:245.25px;font-size:6.6px;color:#262626;font-weight:normal;">指标5</div><div class="t" style="left:186.25px;width:400px;text-align:center;top:278.5px;font-size:6.6px;color:#262626;font-weight:normal;">指标6</div><div class="t" style="left:132.5px;width:400px;text-align:center;top:295.25px;font-size:6.6px;color:#262626;font-weight:normal;">指标7</div><div class="t" style="left:80.5px;width:400px;text-align:center;top:278.5px;font-size:6.6px;color:#262626;font-weight:normal;">指标8</div><div class="t" style="left:47.5px;width:400px;text-align:center;top:245.0px;font-size:6.6px;color:#262626;font-weight:normal;">指标9</div><div class="t" style="left:33.75px;width:400px;text-align:center;top:200.75px;font-size:6.6px;color:#262626;font-weight:normal;">指标10</div><div class="t" style="left:44.5px;width:400px;text-align:center;top:155.25px;font-size:6.6px;color:#262626;font-weight:normal;">指标11</div><div class="t" style="left:78.75px;width:400px;text-align:center;top:122.75px;font-size:6.6px;color:#262626;font-weight:normal;">指标12</div><div class="t" style="left:133.75px;width:400px;text-align:center;top:146.0px;font-size:6.6px;color:#262626;font-weight:normal;">60</div><div class="t" style="left:163.75px;width:400px;text-align:center;top:147.75px;font-size:6.6px;color:#262626;font-weight:normal;">70</div><div class="t" style="left:195px;width:400px;text-align:center;top:164.0px;font-size:6.6px;color:#262626;font-weight:normal;">90</div><div class="t" style="left:201.25px;width:400px;text-align:center;top:200.75px;font-size:6.6px;color:#262626;font-weight:normal;">82</div><div class="t" style="left:195.5px;width:400px;text-align:center;top:236.5px;font-size:6.6px;color:#262626;font-weight:normal;">90</div><div class="t" style="left:166.25px;width:400px;text-align:center;top:257.75px;font-size:6.6px;color:#262626;font-weight:normal;">80</div><div class="t" style="left:133.75px;width:400px;text-align:center;top:260.25px;font-size:6.6px;color:#262626;font-weight:normal;">70</div><div class="t" style="left:94.5px;width:400px;text-align:center;top:268.5px;font-size:6.6px;color:#262626;font-weight:normal;">100</div><div class="t" style="left:50.39999999999998px;width:400px;text-align:center;top:249.0px;font-size:6.6px;color:#262626;font-weight:normal;">120</div><div class="t" style="left:61.25px;width:400px;text-align:center;top:200.75px;font-size:6.6px;color:#262626;font-weight:normal;">90</div><div class="t" style="left:68px;width:400px;text-align:center;top:162.0px;font-size:6.6px;color:#262626;font-weight:normal;">95</div><div class="t" style="left:95.5px;width:400px;text-align:center;top:132.0px;font-size:6.6px;color:#262626;font-weight:normal;">100</div><div class="t" style="left:128px;width:400px;text-align:center;top:76.95px;font-size:13px;color:#333;font-weight:normal;">线形雷达图</div><div class="t" style="left:60.8px;top:107.7px;font-size:13.2px;color:#13913f;font-weight:bold;">点击此处添加标题</div><div class="t" style="left:60.8px;top:129.2px;font-size:8.0px;color:#595959;font-weight:normal;">标题数字等都可以通过点击和重新输入</div><div class="t" style="left:60.8px;top:143.6px;font-size:8.0px;color:#595959;font-weight:normal;">进行更改，顶部<span class="ql">“</span>开始<span class="qr">”</span>面板中可以对</div><div class="t" style="left:60.8px;top:158.0px;font-size:8.0px;color:#595959;font-weight:normal;">字体、字号、进行修改等编辑操作</div><div class="t" style="left:60.8px;top:212.2px;font-size:13.2px;color:#13913f;font-weight:bold;">点击此处添加标题</div><div class="t" style="left:60.8px;top:232.79999999999998px;font-size:8.0px;color:#595959;font-weight:normal;">标题数字等都可以通过点击和重新输入</div><div class="t" style="left:60.8px;top:247.2px;font-size:8.0px;color:#595959;font-weight:normal;">进行更改，顶部<span class="ql">“</span>开始<span class="qr">”</span>面板中可以对</div><div class="t" style="left:60.8px;top:261.59999999999997px;font-size:8.0px;color:#595959;font-weight:normal;">字体、字号、进行修改等编辑操作</div><div class="a" style="left:56.5px;top:187.5px;width:141px;height:1px;background:#e6e6e6"></div></div>
<div class="s" style="left:0px;top:1480px"><svg class="a" style="left:4px;top:6px" width="19" height="19" viewBox="0 0 19 19">
<circle cx="9.2" cy="9.2" r="7.6" fill="none" stroke="#ececec" stroke-width="0.6"/><path d="M3.2 7.5 A6.6 6.6 0 0 1 15.8 7.5" fill="none" stroke="#bdbdbd" stroke-width="0.8" stroke-dasharray="0.8 0.7"/>
<circle cx="9.2" cy="6.9" r="1.1" fill="#6b2a1a"/>
<path d="M5 13.8 L6.6 10.6 L7.6 12 L9.1 9.2 L10.6 12 L11.6 10.6 L13.3 13.8 Z" fill="#106d2c"/>
<path d="M4.8 14.9 Q9.2 16.6 13.6 14.9" fill="none" stroke="#9a9a9a" stroke-width="0.7"/>
</svg><div class="a" style="left:25px;top:0;width:2px;height:360px;background:#f6f6f6"></div><div class="t vt" style="left:-23px;top:177px;width:72px;font-size:6px;color:#222">Business plan | <b>商业计划书</b></div><div class="t" style="left:7px;top:344px;font-size:8px;color:#222;font-weight:bold;">110</div><div class="t" style="left:159px;width:300px;text-align:right;top:346px;font-size:5.9px;color:#8a8a8a;font-weight:normal;">www.pptgenius.com | 内部资料 禁止外传</div><div class="t" style="left:57px;top:34px;font-size:18px;color:#262626;font-weight:normal;">雷达图</div><svg class="a" style="left:0;top:0" width="475" height="360"><defs><clipPath id="cb9"><polygon points="332.50,140.60 366.00,142.18 376.15,175.00 405.20,200.20 375.80,225.20 354.00,237.44 332.50,250.70 299.10,258.05 282.70,228.95 282.50,200.20 300.80,181.90 307.00,156.03"/></clipPath></defs><polygon points="332.50,188.10 338.55,189.72 342.98,194.15 344.60,200.20 342.98,206.25 338.55,210.68 332.50,212.30 326.45,210.68 322.02,206.25 320.40,200.20 322.02,194.15 326.45,189.72" fill="none" stroke="#ebebeb" stroke-width="0.9"/><polygon points="332.50,176.00 344.60,179.24 353.46,188.10 356.70,200.20 353.46,212.30 344.60,221.16 332.50,224.40 320.40,221.16 311.54,212.30 308.30,200.20 311.54,188.10 320.40,179.24" fill="none" stroke="#ebebeb" stroke-width="0.9"/><polygon points="332.50,163.90 350.65,168.76 363.94,182.05 368.80,200.20 363.94,218.35 350.65,231.64 332.50,236.50 314.35,231.64 301.06,218.35 296.20,200.20 301.06,182.05 314.35,168.76" fill="none" stroke="#ebebeb" stroke-width="0.9"/><polygon points="332.50,151.80 356.70,158.28 374.42,176.00 380.90,200.20 374.42,224.40 356.70,242.12 332.50,248.60 308.30,242.12 290.58,224.40 284.10,200.20 290.58,176.00 308.30,158.28" fill="none" stroke="#ebebeb" stroke-width="0.9"/><polygon points="332.50,139.70 362.75,147.81 384.89,169.95 393.00,200.20 384.89,230.45 362.75,252.59 332.50,260.70 302.25,252.59 280.11,230.45 272.00,200.20 280.11,169.95 302.25,147.81" fill="none" stroke="#ebebeb" stroke-width="0.9"/><polygon points="332.50,127.60 368.80,137.33 395.37,163.90 405.10,200.20 395.37,236.50 368.80,263.07 332.50,272.80 296.20,263.07 269.63,236.50 259.90,200.20 269.63,163.90 296.20,137.33" fill="none" stroke="#ebebeb" stroke-width="0.9"/><polygon points="332.50,115.50 374.85,126.85 405.85,157.85 417.20,200.20 405.85,242.55 374.85,273.55 332.50,284.90 290.15,273.55 259.15,242.55 247.80,200.20 259.15,157.85 290.15,126.85" fill="none" stroke="#ebebeb" stroke-width="0.9"/><polygon points="332.50,140.60 366.00,142.18 376.15,175.00 405.20,200.20 375.80,225.20 354.00,237.44 332.50,250.70 299.10,258.05 282.70,228.95 282.50,200.20 300.80,181.90 307.00,156.03" fill="#deecf8"/><polygon points="332.50,145.40 368.10,138.54 397.28,162.80 384.50,200.20 383.16,229.45 359.85,247.57 332.50,252.50 305.20,247.48 296.73,220.85 274.10,200.20 296.99,179.70 309.30,160.02" fill="#c0e8d2"/><polygon points="332.50,145.40 368.10,138.54 397.28,162.80 384.50,200.20 383.16,229.45 359.85,247.57 332.50,252.50 305.20,247.48 296.73,220.85 274.10,200.20 296.99,179.70 309.30,160.02" fill="#a4d9cc" clip-path="url(#cb9)"/><polygon points="332.50,188.10 338.55,189.72 342.98,194.15 344.60,200.20 342.98,206.25 338.55,210.68 332.50,212.30 326.45,210.68 322.02,206.25 320.40,200.20 322.02,194.15 326.45,189.72" fill="none" stroke="rgba(0,0,0,0.035)" stroke-width="0.9"/><polygon points="332.50,176.00 344.60,179.24 353.46,188.10 356.70,200.20 353.46,212.30 344.60,221.16 332.50,224.40 320.40,221.16 311.54,212.30 308.30,200.20 311.54,188.10 320.40,179.24" fill="none" stroke="rgba(0,0,0,0.035)" stroke-width="0.9"/><polygon points="332.50,163.90 350.65,168.76 363.94,182.05 368.80,200.20 363.94,218.35 350.65,231.64 332.50,236.50 314.35,231.64 301.06,218.35 296.20,200.20 301.06,182.05 314.35,168.76" fill="none" stroke="rgba(0,0,0,0.035)" stroke-width="0.9"/><polygon points="332.50,151.80 356.70,158.28 374.42,176.00 380.90,200.20 374.42,224.40 356.70,242.12 332.50,248.60 308.30,242.12 290.58,224.40 284.10,200.20 290.58,176.00 308.30,158.28" fill="none" stroke="rgba(0,0,0,0.035)" stroke-width="0.9"/><polygon points="332.50,140.60 366.00,142.18 376.15,175.00 405.20,200.20 375.80,225.20 354.00,237.44 332.50,250.70 299.10,258.05 282.70,228.95 282.50,200.20 300.80,181.90 307.00,156.03" fill="none" stroke="#3f9fc6" stroke-width="1.2"/><polygon points="332.50,145.40 368.10,138.54 397.28,162.80 384.50,200.20 383.16,229.45 359.85,247.57 332.50,252.50 305.20,247.48 296.73,220.85 274.10,200.20 296.99,179.70 309.30,160.02" fill="none" stroke="#11713a" stroke-width="1.3"/><rect x="414.8" y="90.4" width="4.4" height="4.4" fill="#deecf8" stroke="#3f9fc6" stroke-width="1.2"/><rect x="414.8" y="103.7" width="4.4" height="4.4" fill="#c0e8d2" stroke="#11713a" stroke-width="1.2"/></svg><div class="t" style="left:421px;top:89px;font-size:7.6px;color:#333;font-weight:normal;">系列 1</div><div class="t" style="left:421px;top:102.3px;font-size:7.6px;color:#333;font-weight:normal;">系列2</div><div class="t" style="left:132.5px;width:400px;text-align:center;top:101.5px;font-size:7.8px;color:#333;font-weight:normal;">指标1</div><div class="t" style="left:184.5px;width:400px;text-align:center;top:120.5px;font-size:7.8px;color:#333;font-weight:normal;">指标2</div><div class="t" style="left:217.5px;width:400px;text-align:center;top:153px;font-size:7.8px;color:#333;font-weight:normal;">指标3</div><div class="t" style="left:229.5px;width:400px;text-align:center;top:196.5px;font-size:7.8px;color:#333;font-weight:normal;">指标4</div><div class="t" style="left:217.5px;width:400px;text-align:center;top:240.5px;font-size:7.8px;color:#333;font-weight:normal;">指标5</div><div class="t" style="left:184.5px;width:400px;text-align:center;top:272.25px;font-size:7.8px;color:#333;font-weight:normal;">指标6</div><div class="t" style="left:132.5px;width:400px;text-align:center;top:290.5px;font-size:7.8px;color:#333;font-weight:normal;">指标7</div><div class="t" style="left:78.75px;width:400px;text-align:center;top:272.25px;font-size:7.8px;color:#333;font-weight:normal;">指标8</div><div class="t" style="left:47.5px;width:400px;text-align:center;top:240.5px;font-size:7.8px;color:#333;font-weight:normal;">指标9</div><div class="t" style="left:33.75px;width:400px;text-align:center;top:196.20000000000005px;font-size:7.8px;color:#333;font-weight:normal;">指标10</div><div class="t" style="left:45px;width:400px;text-align:center;top:153px;font-size:7.8px;color:#333;font-weight:normal;">指标11</div><div class="t" style="left:76.25px;width:400px;text-align:center;top:120.5px;font-size:7.8px;color:#333;font-weight:normal;">指标12</div><div class="t" style="left:129px;width:400px;text-align:center;top:75.2px;font-size:13px;color:#333;font-weight:normal;">双色雷达图</div><div class="t" style="left:60.5px;top:107.5px;font-size:13.2px;color:#13913f;font-weight:bold;">点击此处添加标题</div><div class="t" style="left:60.5px;top:128.8px;font-size:8.0px;color:#595959;font-weight:normal;">标题数字等都可以通过点击和重新输入</div><div class="t" style="left:60.5px;top:143.20000000000002px;font-size:8.0px;color:#595959;font-weight:normal;">进行更改，顶部<span class="ql">“</span>开始<span class="qr">”</span>面板中可以对</div><div class="t" style="left:60.5px;top:157.60000000000002px;font-size:8.0px;color:#595959;font-weight:normal;">字体、字号、进行修改等编辑操作</div><div class="t" style="left:60.5px;top:212.0px;font-size:13.2px;color:#13913f;font-weight:bold;">点击此处添加标题</div><div class="t" style="left:60.5px;top:232.4px;font-size:8.0px;color:#595959;font-weight:normal;">标题数字等都可以通过点击和重新输入</div><div class="t" style="left:60.5px;top:246.8px;font-size:8.0px;color:#595959;font-weight:normal;">进行更改，顶部<span class="ql">“</span>开始<span class="qr">”</span>面板中可以对</div><div class="t" style="left:60.5px;top:261.2px;font-size:8.0px;color:#595959;font-weight:normal;">字体、字号、进行修改等编辑操作</div><div class="a" style="left:56px;top:188px;width:141.5px;height:1px;background:#e6e6e6"></div></div>
<div class="s" style="left:485px;top:1480px"><svg class="a" style="left:0;top:0" width="475" height="360"><defs>
<radialGradient id="glow10" cx="0" cy="0" r="150" gradientUnits="userSpaceOnUse"><stop offset="0" stop-color="#fff" stop-opacity="0.75"/><stop offset="1" stop-color="#fff" stop-opacity="0"/></radialGradient>
<radialGradient id="glow10b" cx="480" cy="250" r="170" gradientUnits="userSpaceOnUse"><stop offset="0" stop-color="#fff" stop-opacity="0.95"/><stop offset="0.6" stop-color="#fff" stop-opacity="0.6"/><stop offset="1" stop-color="#fff" stop-opacity="0"/></radialGradient>
<radialGradient id="glow10c" cx="450" cy="30" r="110" gradientUnits="userSpaceOnUse"><stop offset="0" stop-color="#fff" stop-opacity="0.95"/><stop offset="1" stop-color="#fff" stop-opacity="0"/></radialGradient>
<radialGradient id="bg10" cx="140" cy="200" r="420" gradientUnits="userSpaceOnUse">
<stop offset="0" stop-color="#d9d9d9"/><stop offset="0.4" stop-color="#e3e3e3"/><stop offset="0.75" stop-color="#f6f6f6"/><stop offset="1" stop-color="#ffffff"/></radialGradient>
<linearGradient id="gr10" x1="0" y1="0" x2="0" y2="1"><stop offset="0" stop-color="#1f9c50"/><stop offset="0.6" stop-color="#1d9a4e"/><stop offset="1" stop-color="#128a40"/></linearGradient>
<filter id="bl10" x="-0.2" y="-0.2" width="1.4" height="1.4"><feGaussianBlur stdDeviation="6"/></filter>
<filter id="bl10s" x="-0.1" y="-0.1" width="1.2" height="1.2"><feGaussianBlur stdDeviation="1.1"/></filter>
<linearGradient id="fade10" x1="0" y1="0" x2="1" y2="0"><stop offset="0" stop-color="#fff" stop-opacity="0.85"/><stop offset="0.7" stop-color="#fff" stop-opacity="0.6"/><stop offset="1" stop-color="#fff" stop-opacity="0.2"/></linearGradient>
</defs><rect x="0" y="0" width="475" height="360" fill="#fff"/><rect x="0" y="0" width="475" height="360" fill="url(#bg10)"/><path d="M-330 -10 C-285 70 -180 200 90 330" fill="none" stroke="#fff" stroke-opacity="0.8" stroke-width="3.0" filter="url(#bl10s)"/><path d="M-303 -10 C-258 70 -153 200 117 330" fill="none" stroke="#fff" stroke-opacity="0.6" stroke-width="2.2" filter="url(#bl10s)"/><path d="M-276 -10 C-231 70 -126 200 144 330" fill="none" stroke="#fff" stroke-opacity="0.9" stroke-width="3.8" filter="url(#bl10s)"/><path d="M-249 -10 C-204 70 -99 200 171 330" fill="none" stroke="#fff" stroke-opacity="0.7" stroke-width="2.6" filter="url(#bl10s)"/><path d="M-222 -10 C-177 70 -72 200 198 330" fill="none" stroke="#fff" stroke-opacity="0.8" stroke-width="3.0" filter="url(#bl10s)"/><path d="M-195 -10 C-150 70 -45 200 225 330" fill="none" stroke="#fff" stroke-opacity="0.6" stroke-width="2.2" filter="url(#bl10s)"/><path d="M-168 -10 C-123 70 -18 200 252 330" fill="none" stroke="#fff" stroke-opacity="0.9" stroke-width="3.8" filter="url(#bl10s)"/><path d="M-141 -10 C-96 70 9 200 279 330" fill="none" stroke="#fff" stroke-opacity="0.7" stroke-width="2.6" filter="url(#bl10s)"/><path d="M-114 -10 C-69 70 36 200 306 330" fill="none" stroke="#fff" stroke-opacity="0.8" stroke-width="3.0" filter="url(#bl10s)"/><path d="M-87 -10 C-42 70 63 200 333 330" fill="none" stroke="#fff" stroke-opacity="0.6" stroke-width="2.2" filter="url(#bl10s)"/><path d="M-60 -10 C-15 70 90 200 360 330" fill="none" stroke="#fff" stroke-opacity="0.9" stroke-width="3.8" filter="url(#bl10s)"/><path d="M-33 -10 C12 70 117 200 387 330" fill="none" stroke="#fff" stroke-opacity="0.7" stroke-width="2.6" filter="url(#bl10s)"/><path d="M-6 -10 C39 70 144 200 414 330" fill="none" stroke="#fff" stroke-opacity="0.8" stroke-width="3.0" filter="url(#bl10s)"/><path d="M21 -10 C66 70 171 200 441 330" fill="none" stroke="#fff" stroke-opacity="0.6" stroke-width="2.2" filter="url(#bl10s)"/><path d="M48 -10 C93 70 198 200 468 330" fill="none" stroke="#fff" stroke-opacity="0.9" stroke-width="3.8" filter="url(#bl10s)"/><path d="M75 -10 C120 70 225 200 495 330" fill="none" stroke="#fff" stroke-opacity="0.7" stroke-width="2.6" filter="url(#bl10s)"/><path d="M102 -10 C147 70 252 200 522 330" fill="none" stroke="#fff" stroke-opacity="0.8" stroke-width="3.0" filter="url(#bl10s)"/><path d="M129 -10 C174 70 279 200 549 330" fill="none" stroke="#fff" stroke-opacity="0.6" stroke-width="2.2" filter="url(#bl10s)"/><path d="M156 -10 C201 70 306 200 576 330" fill="none" stroke="#fff" stroke-opacity="0.9" stroke-width="3.8" filter="url(#bl10s)"/><path d="M183 -10 C228 70 333 200 603 330" fill="none" stroke="#fff" stroke-opacity="0.7" stroke-width="2.6" filter="url(#bl10s)"/><path d="M210 -10 C255 70 360 200 630 330" fill="none" stroke="#fff" stroke-opacity="0.8" stroke-width="3.0" filter="url(#bl10s)"/><path d="M237 -10 C282 70 387 200 657 330" fill="none" stroke="#fff" stroke-opacity="0.6" stroke-width="2.2" filter="url(#bl10s)"/><rect x="0" y="0" width="475" height="360" fill="url(#glow10)"/><rect x="0" y="0" width="475" height="360" fill="url(#glow10b)"/><rect x="0" y="0" width="475" height="360" fill="url(#glow10c)"/><path d="M0 190 C90 212 190 262 300 305 C360 328 420 338 475 340 L475 360 L0 360 Z" fill="#fff" opacity="0.9" filter="url(#bl10)"/><path d="M0 229 C80 246 170 290 250 322 C300 338 340 342 400 344 L400 360 L0 360 Z" fill="#dedede" opacity="0.85" filter="url(#bl10s)"/><path d="M0 243.3 C60 262 150 305 200 325 C240 340 275 344 310 345.5 L255 355.4 L228 360 L0 360 Z" fill="url(#gr10)"/><path d="M268.7 360 C300 352 340 340 369.6 330.2 C400 318 440 294 475 276.4 L475 360 Z" fill="#3c3c3c"/><g transform="translate(440.6,36.3)">
<path d="M-14 -4 A14.5 14.5 0 0 1 14 -4" fill="none" stroke="#8a8a8a" stroke-width="1.4" stroke-dasharray="1 1.2"/>
<circle cx="0" cy="-5.6" r="2.4" fill="#b5411e"/>
<path d="M-10.6 11.6 L-6.4 3.8 L-3.9 7.2 L0 0.6 L3.9 7.2 L6.6 3.8 L11.3 11.6 Z" fill="#13913f"/>
<path d="M-16 4.5 A16.2 16.2 0 0 0 16 4.5" fill="none" stroke="#666" stroke-width="0.9"/>
</g><rect x="76" y="116.3" width="59" height="57.5" fill="#12963f"/><line x1="151" y1="162.3" x2="391" y2="162.3" stroke="#333" stroke-width="1"/></svg><div class="t" style="left:-94.8px;width:400px;text-align:center;top:121.5px;font-size:46px;color:#fff;font-weight:bold;transform:scaleX(0.925)">10</div><div class="t" style="left:149.5px;top:120px;font-size:32.3px;color:#13913f;font-weight:bold;">资金的退出</div><div class="t" style="left:150.5px;top:177.3px;font-size:11.9px;color:#333;font-weight:normal;">主要告诉投资者如何收回投资，什么时间收回</div><div class="t" style="left:150.5px;top:195.7px;font-size:11.9px;color:#333;font-weight:normal;">投资，大约有多少回报率等情况。</div><div class="t" style="left:7px;top:345px;font-size:7.2px;color:#fff;font-weight:normal;">111</div><div class="t" style="left:26.5px;top:344.6px;font-size:6.6px;color:#fff;font-weight:normal;">Business plan | <b>商业计划书</b></div><div class="t" style="left:159px;width:300px;text-align:right;top:346px;font-size:5.9px;color:#9a9a9a;font-weight:normal;">www.pptgenius.com | 内部资料 禁止外传</div></div>
</body></html>
